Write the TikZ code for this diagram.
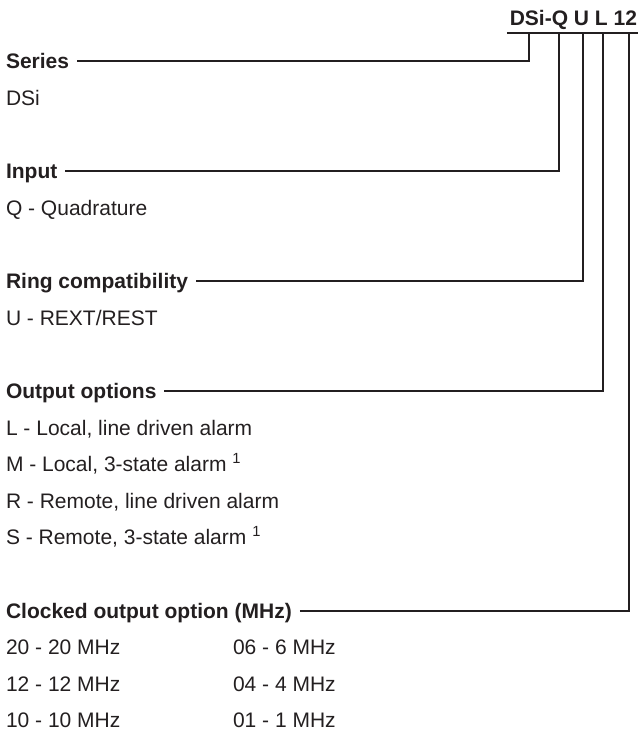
\documentclass[tikz,border=0pt]{standalone}
\usepackage{fontspec}
\setmainfont{Liberation Sans}
\usepackage{xcolor}
\usetikzlibrary{positioning}
\definecolor{ink}{HTML}{231F20}

\begin{document}
\begin{tikzpicture}[node distance = 10.8pt, color=ink, font=\fontsize{10.5}{12.6}\selectfont]
        \tikzset{head/.style={font=\fontsize{10.5}{12.6}\selectfont\bfseries, inner sep=0pt, outer sep=0pt, text height=7.5pt, text depth=0pt},
                 item/.style={inner sep=0pt, outer sep=0pt, text height=7.5pt, text depth=0pt},
                 lead/.style={line width=1pt}}
        \useasboundingbox (0,0) rectangle (320pt,-365.5pt);

        % part number and its bar
        \node[head, anchor=north east] (code) at (318.5pt,-5.5pt) {DSi-Q U L 12};
        \coordinate (barL) at ([shift={(-1.5pt,-3.5pt)}]code.south west);
        \coordinate (barR) at ([shift={(0.5pt,-3.5pt)}]code.south east);
        \draw[lead] (barL) -- (barR);
        \coordinate (tapS) at (264.5pt,-16.5pt);
        \coordinate (tapQ) at (279.5pt,-16.5pt);
        \coordinate (tapU) at (291.5pt,-16.5pt);
        \coordinate (tapL) at (301.5pt,-16.5pt);
        \coordinate (tapF) at (314.5pt,-16.5pt);

        \node[head, anchor=north west] (series) at (3pt,-27pt) {Series};
        \node[item, below=of series.south west, anchor=north west] (dsi) {DSi};

        \node[head, below=29.1pt of dsi.south west, anchor=north west] (input) {Input};
        \node[item, below=of input.south west, anchor=north west] (quad) {Q - Quadrature};

        \node[head, below=29.1pt of quad.south west, anchor=north west] (ring) {Ring compatibility};
        \node[item, below=of ring.south west, anchor=north west] (rext) {U - REXT/REST};

        \node[head, below=29.1pt of rext.south west, anchor=north west] (output) {Output options};
        \node[item, below=of output.south west, anchor=north west] (optL) {L - Local, line driven alarm};
        \node[item, below=of optL.south west, anchor=north west] (optM) {M - Local, 3-state alarm \textsuperscript{1}};
        \node[item, below=of optM.south west, anchor=north west] (optR) {R - Remote, line driven alarm};
        \node[item, below=of optR.south west, anchor=north west] (optS) {S - Remote, 3-state alarm \textsuperscript{1}};

        \node[head, below=29.1pt of optS.south west, anchor=north west] (clock) {Clocked output option (MHz)};
        \node[item, below=of clock.south west, anchor=north west] (f20) {20 - 20 MHz};
        \node[item, below=of f20.south west, anchor=north west] (f12) {12 - 12 MHz};
        \node[item, below=of f12.south west, anchor=north west] (f10) {10 - 10 MHz};
        \node[item, anchor=north west] (f06) at ([xshift=113.5pt]f20.north west) {06 - 6 MHz};
        \node[item, below=of f06.south west, anchor=north west] (f04) {04 - 4 MHz};
        \node[item, below=of f04.south west, anchor=north west] (f01) {01 - 1 MHz};

        % leaders up to the bar
        \draw[lead] ([xshift=4pt]series.east) -| (tapS);
        \draw[lead] ([xshift=4pt]input.east) -| (tapQ);
        \draw[lead] ([xshift=4pt]ring.east) -| (tapU);
        \draw[lead] ([xshift=4pt]output.east) -| (tapL);
        \draw[lead] ([xshift=4pt]clock.east) -| (tapF);
\end{tikzpicture}
\end{document}
